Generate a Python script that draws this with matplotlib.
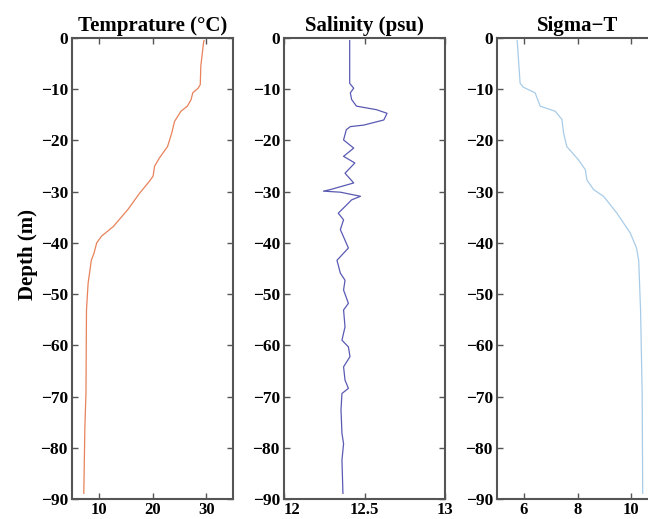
import matplotlib
matplotlib.use("Agg")
import matplotlib.pyplot as plt

plt.rcParams['font.family'] = ['Liberation Serif', 'DejaVu Serif']
plt.rcParams['font.weight'] = 'bold'

# temperature profile
temp_depth = [-0.5, -1, -5.5, -9.1, -9.8, -10.7, -12, -13.3, -14.3, -16.3, -18.5, -21.2, -23.4,
              -25, -27, -28, -30.3, -33.5, -36.8, -38.7, -40, -42, -43.4, -47.9, -53.1,
              -69.4, -75.9, -88.9]
temp_vals = [29.6, 29.5, 29.0, 28.9, 28.5, 27.5, 27.2, 26.5, 25.3, 24.1, 23.6, 22.8, 21.3,
             20.4, 20.1, 19.4, 17.6, 15.4, 12.7, 10.5, 9.6, 9.1, 8.6, 8.0, 7.7,
             7.6, 7.4, 7.2]

# salinity profile
sal_depth = [-0.5, -8.85, -9.8, -10.7, -12, -13.3, -14, -14.7, -16, -17, -17.3, -17.9, -19.9,
             -21.5, -23.1, -24.4, -26.4, -28.3, -29.6, -29.9, -30.1, -30.9, -31.6, -32.9,
             -34.2, -35.5, -37.4, -41, -43.4, -45.9, -47.3, -49.2, -51.8, -53.1, -56.4,
             -59, -60.3, -62.2, -64.2, -66.8, -68.4, -69.4, -72.6, -77.2, -79.2, -82.4, -88.9]
sal_vals = [12.408, 12.408, 12.433, 12.412, 12.42, 12.45, 12.575, 12.64, 12.62, 12.496, 12.412,
            12.387, 12.37, 12.433, 12.37, 12.44, 12.379, 12.433, 12.287, 12.245, 12.35, 12.475,
            12.42, 12.379, 12.337, 12.37, 12.35, 12.40, 12.329, 12.35, 12.379, 12.37, 12.40,
            12.37, 12.379, 12.36, 12.40, 12.41, 12.37, 12.379, 12.40, 12.36, 12.354, 12.36,
            12.37, 12.36, 12.366]

# sigma-t profile
sig_depth = [-0.5, -1, -8.8, -9.6, -10.7, -13.3, -14.3, -15.9, -18.5, -21.2, -23.8, -25.7,
             -27.7, -29.6, -30.9, -34.2, -38.1, -41, -43.4, -53.1, -69.4, -88.9]
sig_vals = [5.75, 5.76, 5.86, 5.98, 6.42, 6.61, 7.17, 7.42, 7.48, 7.6, 8.04, 8.29,
            8.35, 8.6, 8.97, 9.47, 9.97, 10.2, 10.28, 10.35, 10.41, 10.43]

titles = ['Temprature (°C)', 'Salinity (psu)', 'Sigma\u2212T']
xlims = [(5, 35), (12, 13), (5, 11)]
xticks = [[10, 20, 30], [12, 12.5, 13], [6, 8, 10]]
xticklabels = [['10', '20', '30'], ['12', '12.5', '13'], ['6', '8', '10']]
colors = ['#e8825a', '#5a5ab4', '#a8cce8']
profiles = [(temp_vals, temp_depth), (sal_vals, sal_depth), (sig_vals, sig_depth)]
lefts = [72 / 648, 284 / 648, 497 / 648]

fig = plt.figure(figsize=(6.48, 5.19), dpi=100)
for i in range(3):
    ax = fig.add_axes([lefts[i], 20 / 519, 161 / 648, 461 / 519])
    x, y = profiles[i]
    ax.plot(x, y, color=colors[i], lw=0.9)
    ax.set_xlim(*xlims[i])
    ax.set_ylim(-90, 0)
    ax.set_yticks(range(-90, 1, 10))
    ax.set_xticks(xticks[i])
    ax.set_xticklabels(xticklabels[i])
    ax.tick_params(direction='in', top=True, right=True, length=4, width=1,
                   color='#555555', labelsize=12.5)
    ax.tick_params(axis='x', pad=2, labelsize=12)
    ax.tick_params(axis='y', pad=3)
    for lab in ax.get_xticklabels() + ax.get_yticklabels():
        lab.set_fontweight('bold')
    if i == 1:
        # "12" sits just right of the tick so it clears the -90 label
        ax.get_xticklabels()[0].set_horizontalalignment('left')
    for s in ax.spines.values():
        s.set_color('#555555')
        s.set_linewidth(1.5)
    ax.set_title(titles[i], fontsize=15, fontweight='bold', pad=5)
    if i == 0:
        ax.set_ylabel('Depth (m)', fontsize=15, fontweight='bold')
        ax.yaxis.set_label_coords(-0.21, 0.53)

fig.savefig('out.png', dpi=100)
